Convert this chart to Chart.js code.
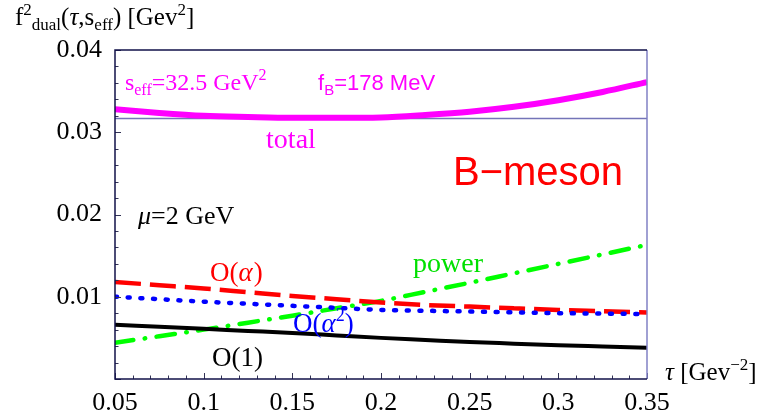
<!DOCTYPE html>
<html><head><meta charset="utf-8">
<script src="https://cdn.jsdelivr.net/npm/chart.js@4/dist/chart.umd.min.js"></script>
<style>html,body{margin:0;padding:0;background:#fff;}#wrap{width:766px;height:417px;position:relative;}</style>
</head><body><div id="wrap"><canvas id="c" width="766" height="417"></canvas></div>
<script>
// ---- data ----
const tau          = [0.05, 0.075, 0.1, 0.125, 0.15, 0.175, 0.2, 0.225, 0.25, 0.275, 0.3, 0.325, 0.35];
const totalVals    = [0.0328, 0.03235, 0.0320, 0.03185, 0.03175, 0.03175, 0.0318, 0.0321, 0.0325, 0.0331, 0.0339, 0.0349, 0.0361];
const alphaVals    = [0.0118, 0.0114, 0.0110, 0.01055, 0.0101, 0.0097, 0.0093, 0.0090, 0.0088, 0.0086, 0.0084, 0.00825, 0.0081];
const alpha2Vals   = [0.0100, 0.0097, 0.0094, 0.00915, 0.0089, 0.00865, 0.0084, 0.0083, 0.0082, 0.0081, 0.0080, 0.00795, 0.0079];
const order1Vals   = [0.0066, 0.00635, 0.0061, 0.00585, 0.0056, 0.0053, 0.0050, 0.00475, 0.0045, 0.0043, 0.0041, 0.00395, 0.0038];
const powerVals    = [0.0044, 0.0052, 0.0060, 0.00685, 0.0077, 0.0086, 0.0095, 0.0106, 0.0117, 0.01285, 0.0140, 0.01515, 0.0163];
const fB2 = 0.031684; // f_B^2 = (0.178 GeV)^2 reference line
const xTicks = [0.05, 0.1, 0.15, 0.2, 0.25, 0.3, 0.35];
const xTickLabels = ['0.05', '0.1', '0.15', '0.2', '0.25', '0.3', '0.35'];
const yTicks = [0.01, 0.02, 0.03, 0.04];
const yTickLabels = ['0.01', '0.02', '0.03', '0.04'];

const SERIF = '"Liberation Serif","Times New Roman",serif';
const SANS = '"Liberation Sans",Arial,sans-serif';
const pts = vals => tau.map((t, i) => ({x: t, y: vals[i]}));

function rich(ctx, x, y, parts, color) {
  ctx.save();
  ctx.fillStyle = color;
  ctx.textBaseline = 'alphabetic';
  ctx.textAlign = 'left';
  let cx = x;
  for (const p of parts) {
    ctx.font = (p.it ? 'italic ' : '') + p.sz + 'px ' + (p.ff || SERIF);
    ctx.fillText(p.t, cx, y + (p.dy || 0));
    cx += ctx.measureText(p.t).width + (p.gap || 0);
  }
  ctx.restore();
}

// annotation texts anchored in data coordinates (left, baseline)
const notes = [
  {x: 0.0556, y: 0.0351, c: '#ff00ff', parts: [{t: 's', sz: 24}, {t: 'eff', sz: 16, dy: 5}, {t: '=32.5 GeV', sz: 24}, {t: '2', sz: 16, dy: -10}]},
  {x: 0.1645, y: 0.0351, c: '#ff00ff', parts: [{t: 'f', sz: 22, ff: SANS}, {t: 'B', sz: 15, dy: 5, ff: SANS}, {t: '=178 MeV', sz: 22, ff: SANS}]},
  {x: 0.1352, y: 0.0281, c: '#ff00ff', parts: [{t: 'total', sz: 28}]},
  {x: 0.2406, y: 0.0236, c: '#ff0000', parts: [{t: 'B\u2212meson', sz: 40, ff: SANS}]},
  {x: 0.0630, y: 0.01885, c: '#000000', parts: [{t: '\u03bc', sz: 26, it: true}, {t: '=2 GeV', sz: 26}]},
  {x: 0.1036, y: 0.01192, c: '#ff0000', parts: [{t: 'O(', sz: 27}, {t: '\u03b1', sz: 27, it: true, gap: 1}, {t: ')', sz: 27}]},
  {x: 0.2181, y: 0.0130, c: '#00e000', parts: [{t: 'power', sz: 28}]},
  {x: 0.1504, y: 0.00572, c: '#0000ff', parts: [{t: 'O(', sz: 27}, {t: '\u03b1', sz: 27, it: true}, {t: '2', sz: 18, dy: -11}, {t: ')', sz: 27}]},
  {x: 0.1047, y: 0.00158, c: '#000000', parts: [{t: 'O(1)', sz: 27}]}
];

const decor = {
  id: 'decor',
  beforeDatasetsDraw(chart) {
    const {ctx, chartArea: a, scales: {y}} = chart;
    const py = Math.round(y.getPixelForValue(fB2)) + 0.5;
    ctx.save();
    ctx.strokeStyle = '#7474b8';
    ctx.lineWidth = 1.5;
    ctx.beginPath(); ctx.moveTo(a.left, py); ctx.lineTo(a.right, py); ctx.stroke();
    ctx.restore();
  },
  afterDatasetsDraw(chart) {
    const {ctx, chartArea: a, scales: {x, y}} = chart;
    ctx.save();
    // ticks (inward)
    ctx.strokeStyle = '#333355';
    ctx.lineWidth = 1;
    for (let k = 0; k <= 30; k++) {
      const v = 0.05 + k * 0.01;
      const px = Math.round(x.getPixelForValue(v)) + 0.5;
      const len = (k % 5 === 0) ? 6 : 3.5;
      ctx.beginPath(); ctx.moveTo(px, a.bottom); ctx.lineTo(px, a.bottom - len); ctx.stroke();
    }
    for (let k = 0; k <= 20; k++) {
      const v = k * 0.002;
      const py = Math.round(y.getPixelForValue(v)) + 0.5;
      const len = (k % 5 === 0) ? 6 : 3.5;
      ctx.beginPath(); ctx.moveTo(a.left, py); ctx.lineTo(a.left + len, py); ctx.stroke();
    }
    // frame
    ctx.lineWidth = 1.5;
    ctx.strokeStyle = '#8080c4';
    ctx.beginPath(); ctx.moveTo(a.right, a.top); ctx.lineTo(a.right, a.bottom); ctx.stroke();
    ctx.strokeStyle = '#12124a';
    ctx.beginPath();
    ctx.moveTo(a.right, a.top); ctx.lineTo(a.left, a.top); ctx.lineTo(a.left, a.bottom); ctx.lineTo(a.right, a.bottom);
    ctx.stroke();
    ctx.restore();
    // annotations
    for (const n of notes) rich(ctx, x.getPixelForValue(n.x), y.getPixelForValue(n.y), n.parts, n.c);
  },
  afterDraw(chart) {
    const {ctx, chartArea: a} = chart;
    // y axis title
    rich(ctx, a.left - 100, a.top - 25, [
      {t: 'f', sz: 25}, {t: '2', sz: 17, dy: -10}, {t: 'dual', sz: 17, dy: 5}, {t: '(', sz: 25},
      {t: '\u03c4', sz: 25, it: true}, {t: ',s', sz: 25}, {t: 'eff', sz: 17, dy: 5}, {t: ') [Gev', sz: 25},
      {t: '2', sz: 17, dy: -10}, {t: ']', sz: 25}], '#000');
    // x axis title
    rich(ctx, a.right + 18, a.bottom + 1, [
      {t: '\u03c4', sz: 25, it: true}, {t: ' [Gev', sz: 25}, {t: '\u22122', sz: 17, dy: -10}, {t: ']', sz: 25}], '#000');
  }
};

const common = {pointRadius: 0, pointHoverRadius: 0, fill: false, cubicInterpolationMode: 'monotone'};
new Chart(document.getElementById('c'), {
  type: 'line',
  data: {
    datasets: [
      Object.assign({label: 'O(1)', data: pts(order1Vals), borderColor: '#000000', borderWidth: 4}, common),
      Object.assign({label: 'O(α²)', data: pts(alpha2Vals), borderColor: '#0000ff', borderWidth: 4.5, borderDash: [2, 10.7], borderCapStyle: 'round'}, common),
      Object.assign({label: 'O(α)', data: pts(alphaVals), borderColor: '#ff0000', borderWidth: 4.5, borderDash: [26, 9]}, common),
      Object.assign({label: 'power', data: pts(powerVals), borderColor: '#00ff00', borderWidth: 4.5, borderDash: [18.5, 11.5, 0.5, 11.5], borderCapStyle: 'round'}, common),
      Object.assign({label: 'total', data: pts(totalVals), borderColor: '#ff00ff', borderWidth: 6}, common)
    ]
  },
  options: {
    responsive: false, animation: false, devicePixelRatio: 1,
    layout: {padding: {top: 50, right: 119, left: 0, bottom: 0}},
    plugins: {legend: {display: false}, tooltip: {enabled: false}},
    events: [],
    scales: {
      x: {
        type: 'linear', min: 0.05, max: 0.35,
        afterBuildTicks: s => { s.ticks = xTicks.map(v => ({value: v})); },
        afterFit: s => { s.height = 38; },
        grid: {display: false, drawTicks: false}, border: {display: false},
        ticks: {autoSkip: false, maxRotation: 0, minRotation: 0, padding: 9, color: '#000',
          font: {family: SERIF, size: 26}, callback: (v, i) => xTickLabels[i]}
      },
      y: {
        type: 'linear', min: 0, max: 0.04,
        afterBuildTicks: s => { s.ticks = yTicks.map(v => ({value: v})); },
        afterFit: s => { s.width = 115; },
        grid: {display: false, drawTicks: false}, border: {display: false},
        ticks: {padding: 13, color: '#000', font: {family: SERIF, size: 26}, callback: (v, i) => yTickLabels[i]}
      }
    }
  },
  plugins: [decor]
});
</script>
</body></html>
